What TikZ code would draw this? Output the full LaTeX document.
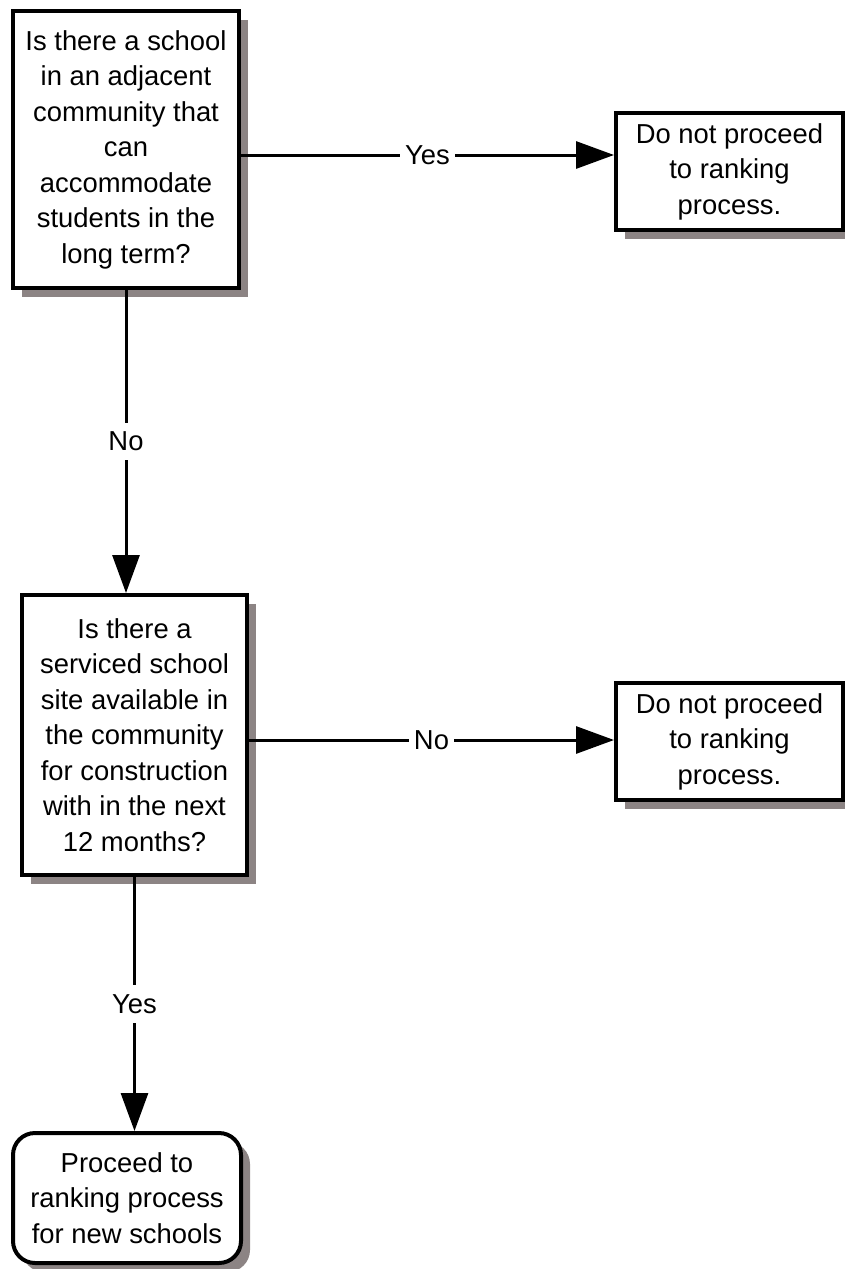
\documentclass[tikz,border=0pt]{standalone}
\usepackage{fontspec}
\setmainfont{Liberation Sans}
\usetikzlibrary{arrows.meta,shadows}
\definecolor{shadowgray}{RGB}{140,132,132}
\begin{document}
\begin{tikzpicture}[x=1pt,y=-1pt,
  txt/.style={font=\fontsize{27.4}{35.5}\selectfont},
  box/.style={txt, draw=black, line width=4pt, fill=white, align=center, inner sep=0pt,
    drop shadow={shadow xshift=9pt, shadow yshift=-9pt, fill=shadowgray, opacity=1}},
  endbox/.style={box, rounded corners=22pt},
  conn/.style={line width=3pt, -{Triangle[length=38pt,width=27pt]}},
  lbl/.style={txt, fill=white, inner xsep=5pt, inner ysep=9pt}]
\useasboundingbox (0,0) rectangle (845,1269);

\node[box, minimum width=226pt, minimum height=277pt] (b1) at (126,149.5)
  {Is there a school\\in an adjacent\\community that\\can\\accommodate\\students in the\\long term?};
\node[box, minimum width=227pt, minimum height=117pt] (b2) at (729.5,171.5)
  {Do not proceed\\to ranking\\process.};
\node[box, minimum width=225pt, minimum height=280pt] (b3) at (134.5,735)
  {Is there a\\serviced school\\site available in\\the community\\for construction\\with in the next\\12 months?};
\node[box, minimum width=227pt, minimum height=117pt] (b4) at (729.5,741.5)
  {Do not proceed\\to ranking\\process.};
\node[endbox, minimum width=228pt, minimum height=130pt] (b5) at (127,1198)
  {Proceed to\\ranking process\\for new schools};

\coordinate (h1) at (0,155);
\coordinate (h2) at (0,740);

\draw[conn] (b1.east |- h1) -- node[lbl]{Yes} (b2.west |- h1);
\draw[conn] (b3.east |- h2) -- node[lbl]{No} (b4.west |- h2);
\draw[conn] (b1.south) -- node[lbl]{No} (b1.south |- b3.north);
\draw[conn] (b3.south) -- node[lbl]{Yes} (b3.south |- b5.north);
\end{tikzpicture}
\end{document}
